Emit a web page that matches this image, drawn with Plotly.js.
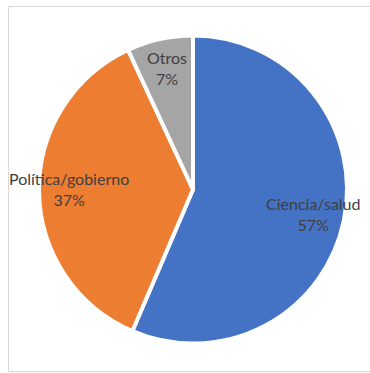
<!DOCTYPE html>
<html>
<head>
<meta charset="utf-8">
<script src="https://cdn.plot.ly/plotly-3.0.1.min.js"></script>
<style>html,body{margin:0;padding:0;background:#fff;}#chart{width:370px;height:373px;}</style>
</head>
<body>
<div id="chart"></div>
<script>
var categories = ['Ciencia/salud', 'Política/gobierno', 'Otros'];
var values = [57, 37, 7];
var colors = ['#4472C4', '#ED7D31', '#A5A5A5'];
// label anchor positions (paper coords) for each category
var labelX = [313/370, 69/370, 167/370];
var labelY = [1 - 214/373, 1 - 189/373, 1 - 68/373];

var W = 370, H = 373;
var cx = 193, cy = 189.5, r = 154;

var trace = {
  type: 'pie',
  labels: categories,
  values: values,
  sort: false,
  direction: 'clockwise',
  rotation: 0,
  textinfo: 'none',
  hoverinfo: 'label+value',
  marker: {colors: colors, line: {color: '#ffffff', width: 4}},
  domain: {x: [(cx - r) / W, (cx + r) / W], y: [(H - cy - r) / H, (H - cy + r) / H]},
  showlegend: false
};

var annotations = categories.map(function (c, i) {
  return {
    xref: 'paper', yref: 'paper', x: labelX[i], y: labelY[i],
    xanchor: 'center', yanchor: 'middle', showarrow: false,
    text: c + '<br>' + values[i] + '%',
    font: {family: 'Lato, sans-serif', size: 16, color: '#404040'}
  };
});

var layout = {
  width: W, height: H,
  margin: {l: 0, r: 0, t: 0, b: 0},
  paper_bgcolor: '#ffffff',
  annotations: annotations,
  shapes: [{
    type: 'rect', xref: 'paper', yref: 'paper',
    x0: 8.5 / W, x1: 1.2, y0: 1 - 371.5 / H, y1: 1 - 6.5 / H,
    line: {color: '#d9d9d9', width: 1}, fillcolor: 'rgba(0,0,0,0)'
  }]
};

Plotly.newPlot('chart', [trace], layout, {displayModeBar: false, staticPlot: true});
</script>
</body>
</html>
